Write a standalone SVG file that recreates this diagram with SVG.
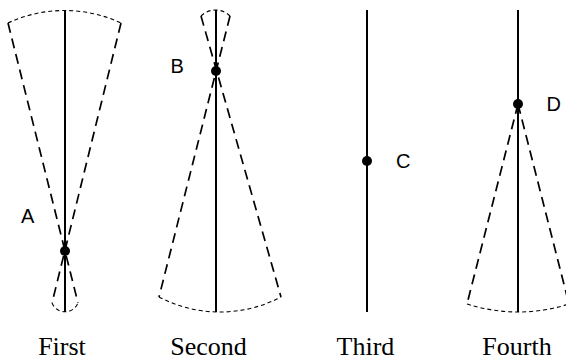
<svg xmlns="http://www.w3.org/2000/svg" width="566" height="361" viewBox="0 0 566 361">
<style>
.axis{stroke:#000;stroke-width:2;fill:none}
.cone{stroke:#000;stroke-width:1.7;fill:none;stroke-dasharray:10,6}
.arc{stroke:#000;stroke-width:1.1;fill:none;stroke-dasharray:4,3}
.dot{fill:#000}
.lbl{font-family:"Liberation Sans",Arial,sans-serif;font-size:20px;fill:#000}
.cap{font-family:"Liberation Serif","Times New Roman",serif;font-size:26px;fill:#000;text-anchor:middle}
</style>
<rect width="566" height="361" fill="#fff"/>
<g id="first">
<line class="axis" x1="65" y1="10" x2="65" y2="312"/>
<line class="cone" x1="8" y1="23" x2="78" y2="303"/>
<line class="cone" x1="121" y1="23" x2="52" y2="303"/>
<path class="arc" d="M8,23 A134,134 0 0 1 121,23"/>
<path class="arc" d="M52,303 A14,14 0 0 0 78,303"/>
<circle class="dot" cx="65" cy="251" r="5"/>
<text class="lbl" x="21" y="223">A</text>
<text class="cap" x="62" y="355">First</text>
</g>
<g id="second">
<line class="axis" x1="216" y1="10" x2="216" y2="312"/>
<line class="cone" x1="201" y1="16" x2="281" y2="297"/>
<line class="cone" x1="230" y1="16" x2="159" y2="297"/>
<path class="arc" d="M201,16 A20.5,20.5 0 0 1 230,16"/>
<path class="arc" d="M159,297 A131.5,131.5 0 0 0 281,297"/>
<circle class="dot" cx="216" cy="71" r="5"/>
<text class="lbl" x="170.5" y="73">B</text>
<text class="cap" x="208.5" y="355">Second</text>
</g>
<g id="third">
<line class="axis" x1="367" y1="10" x2="367" y2="312"/>
<circle class="dot" cx="367" cy="161" r="5"/>
<text class="lbl" x="396" y="168">C</text>
<text class="cap" x="365.5" y="355">Third</text>
</g>
<g id="fourth">
<line class="axis" x1="518" y1="10" x2="518" y2="312"/>
<line class="cone" x1="518" y1="104" x2="467" y2="304"/>
<line class="cone" x1="518" y1="104" x2="569" y2="304"/>
<path class="arc" d="M467,304 A166.6,166.6 0 0 0 569,304"/>
<circle class="dot" cx="518" cy="104" r="5"/>
<text class="lbl" x="546.5" y="111">D</text>
<text class="cap" x="517" y="355">Fourth</text>
</g>
<g id="connectors"/>
</svg>
